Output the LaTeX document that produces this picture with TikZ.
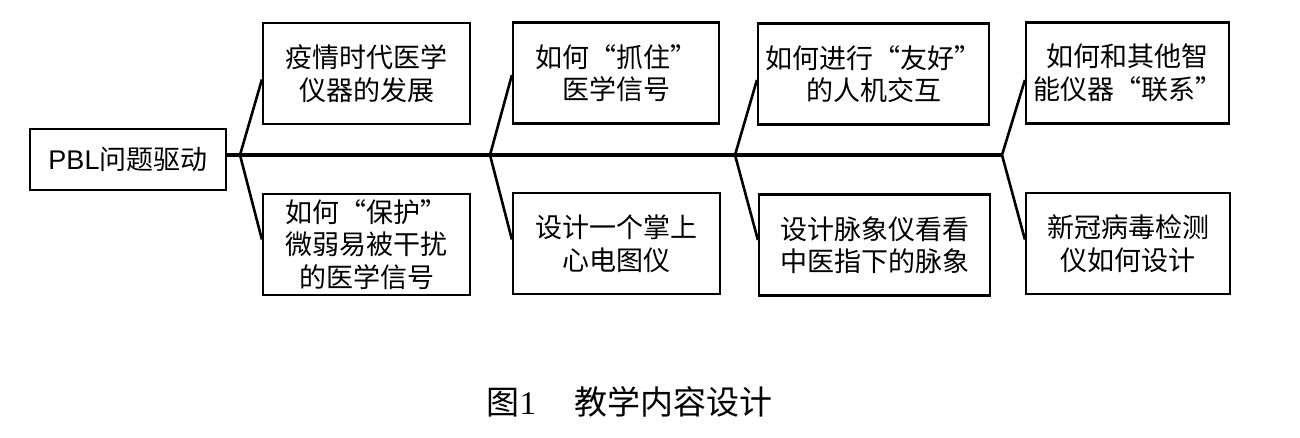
\documentclass[tikz,border=0pt]{standalone}
\usepackage{fontspec}
\setmainfont{Liberation Serif}
\newfontfamily\cjk{Noto Sans CJK SC}
\newfontfamily\lat{Liberation Sans}
\usetikzlibrary{calc}
\tikzset{
  box/.style={draw, line width=2.2pt, rectangle, inner sep=0pt, minimum height=101pt,
    align=center, font=\cjk\fontsize{27}{32.5}\selectfont},
  branch/.style={line width=2.6pt},
  spine/.style={line width=3.2pt}
}
\begin{document}
\begin{tikzpicture}[x=1pt,y=-1pt]
\useasboundingbox (0,0) rectangle (1300,437);
\node[box, minimum width=196pt, minimum height=61pt] (main) at (128,159.5) {{\lat PBL}问题驱动};
\node[box, minimum width=207pt] (b1u) at (366.5,73.5) {疫情时代医学\\仪器的发展};
\node[box, minimum width=207pt] (b1d) at (366.5,244.5) {如何“保护”\\微弱易被干扰\\的医学信号};
\node[box, minimum width=206pt] (b2u) at (616,73) {如何“抓住”\\医学信号};
\node[box, minimum width=207pt] (b2d) at (616.5,243.5) {设计一个掌上\\心电图仪};
\node[box, minimum width=231pt] (b3u) at (873.5,74) {如何进行“友好”\\的人机交互};
\node[box, minimum width=231pt] (b3d) at (874.5,245) {设计脉象仪看看\\中医指下的脉象};
\node[box, minimum width=203pt] (b4u) at (1127.5,73) {如何和其他智\\能仪器“联系”};
\node[box, minimum width=204pt] (b4d) at (1128,243.5) {新冠病毒检测\\仪如何设计};
\coordinate (j1) at (240,155);
\coordinate (j2) at (490,155);
\coordinate (j3) at (735,155);
\coordinate (j4) at (1002,155);
\draw[spine] (main.east |- j1) -- (j4);
\draw[branch] ($(b1u.west)+(0,6)$) -- (j1) -- ($(b1d.west)+(0,-5)$);
\draw[branch] ($(b2u.west)+(0,2)$) -- (j2) -- ($(b2d.west)+(0,-4)$);
\draw[branch] ($(b3u.west)+(0,6)$) -- (j3) -- ($(b3d.west)+(0,-5)$);
\draw[branch] ($(b4u.west)+(0,7)$) -- (j4) -- ($(b4d.west)+(0,-4)$);
\node[font=\cjk\fontsize{33}{38}\selectfont, anchor=west] (cap) at (483,402) {图{\rmfamily 1}\hspace{38pt}教学内容设计};
\end{tikzpicture}
\end{document}
